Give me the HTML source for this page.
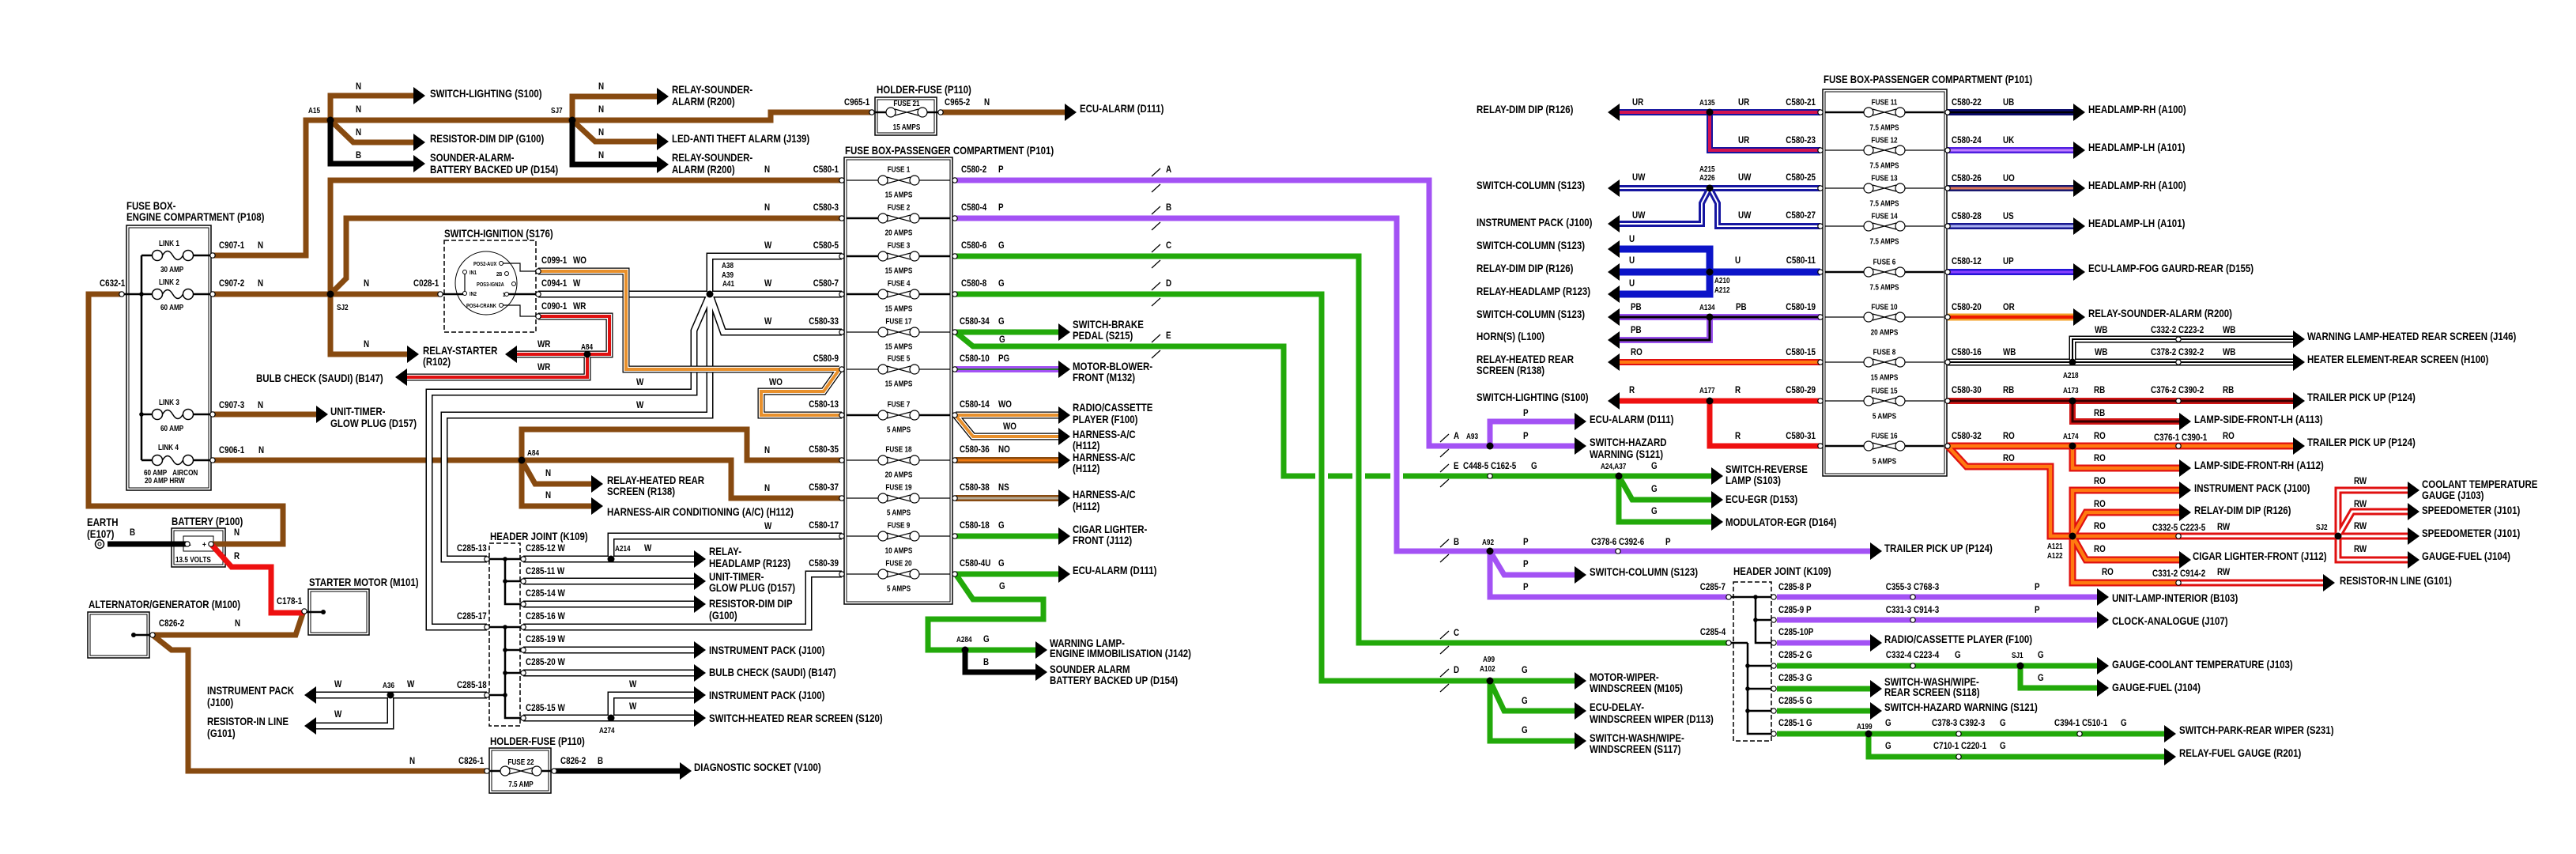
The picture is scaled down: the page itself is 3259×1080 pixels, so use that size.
<!DOCTYPE html>
<html><head><meta charset="utf-8">
<style>
html,body{margin:0;padding:0;background:#fff}
svg{display:block}
text{font-family:"Liberation Sans",Arial,sans-serif;font-weight:bold;fill:#000;transform-box:fill-box;transform-origin:0 50%;transform:scaleX(.82)}
.L{font-size:14px}.M{font-size:12px}.S{font-size:10px}.T{font-size:7px}
.e{text-anchor:end;transform-origin:100% 50%}
.c{text-anchor:middle;transform-origin:50% 50%}
path{fill:none}
.bx{fill:none;stroke:#000;stroke-width:1.5}
.bi{fill:none;stroke:#000;stroke-width:1}
.ds{fill:none;stroke:#000;stroke-width:1.5;stroke-dasharray:6 3}
.t1{stroke:#000;stroke-width:1.2}
.t2{stroke:#000;stroke-width:2.5}
</style></head><body>
<svg xmlns="http://www.w3.org/2000/svg" xmlns:xlink="http://www.w3.org/1999/xlink" width="3259" height="1080" viewBox="0 0 3259 1080">
<defs>
<polygon id="ar" points="0,-11 15,0 0,11"/>
<polygon id="al" points="0,-11 -15,0 0,11"/>
<circle id="cn" r="3.2" fill="#fff" stroke="#000" stroke-width="1.2"/>
<circle id="jd" r="4.5"/>
<circle id="jm" r="2.8"/>
<g id="fz"><circle cx="-20" r="6" fill="#fff" stroke="#000" stroke-width="1.2"/><circle cx="20" r="6" fill="#fff" stroke="#000" stroke-width="1.2"/><path d="M-15,-4L15,4M-15,4L15,-4" stroke="#000" stroke-width="1.2"/></g>
<g id="lk"><circle cx="-19.5" r="6.5" fill="#fff" stroke="#000" stroke-width="1.5"/><circle cx="19.5" r="6.5" fill="#fff" stroke="#000" stroke-width="1.5"/><path d="M-13,0q6.5,-11 13,0q6.5,11 13,0" stroke="#000" stroke-width="1.5"/></g>
<path id="pw" d="M681,372H1065 M898,372V324H1065 M898,372L915,420H1065 M898,372L878,418V496H543V793H616 M898,372V525H562V707H616 M662,707H878 M773,707V678H1065 M662,735H878 M662,764H878 M662,793H1023V726H1065 M662,822H878 M662,851H878 M662,908H878 M773,908V879H878 M616,879H400 M494,879V918H400"/>
<path id="pwo" d="M681,343H792V467H1062 M1062,467L1042,495H963V525H1065 M1209,525H1339 M1209,525L1231,552H1339"/>
<path id="pwr" d="M681,400H771V448H654 M743,448V477H515"/>
<path id="pur" d="M2303,142H2049 M2163,142V190H2303"/>
<path id="puw" d="M2303,238H2049 M2163,238L2153,257V283H2049 M2163,238L2173,257V286H2303"/>
<path id="ppb" d="M2303,401H2049 M2163,401V430H2049"/>
<path id="pwb" d="M2464,458H2901 M2622,458V429H2901"/>
<path id="prb" d="M2464,507H2901 M2622,507V533H2757"/>
<path id="pro" d="M2464,564H2901 M2622,564V592H2757 M2464,564L2488,590H2594V678H2756 M2622,678V620H2757 M2622,678L2639,648H2757 M2622,678L2639,708H2757 M2622,678V737H2756"/>
<path id="prw" d="M2756,678H3046 M2958,678V620H3046 M2958,678L2976,647H3046 M2958,678V708H3046 M2756,737H2939"/>
</defs>
<rect width="3259" height="1080" fill="#fff"/>

<!-- boxes -->
<rect class="bx" x="160" y="285" width="107" height="335"/><rect class="bi" x="163" y="288" width="101" height="329"/>
<rect class="bx" x="1068" y="199" width="137" height="565"/><rect class="bi" x="1071" y="202" width="131" height="559"/>
<rect class="bx" x="2306" y="113" width="157" height="489"/><rect class="bi" x="2309" y="116" width="151" height="483"/>
<rect class="bx" x="1107" y="123" width="78" height="48"/><rect class="bi" x="1110" y="126" width="72" height="42"/>
<rect class="bx" x="619" y="946" width="78" height="57"/><rect class="bi" x="622" y="949" width="72" height="51"/>
<rect class="bx" x="217" y="668" width="68" height="49"/><rect class="bi" x="220" y="671" width="62" height="43"/>
<rect class="bi" x="232" y="678" width="38" height="19"/>
<rect class="bx" x="390" y="745" width="77" height="58"/><rect class="bi" x="393" y="748" width="71" height="52"/>
<rect class="bx" x="111" y="774" width="78" height="58"/><rect class="bi" x="114" y="777" width="72" height="52"/>
<rect class="ds" x="562" y="304" width="116" height="116"/>
<rect class="ds" x="619" y="687" width="39" height="231"/>
<rect class="ds" x="2193" y="736" width="48" height="201"/>
<ellipse cx="615" cy="358" rx="39" ry="40" fill="none" stroke="#000" stroke-width="1"/>

<!-- brown -->
<path stroke="#874a10" stroke-width="7" d="M269,323H387V152H975V142H1103 M418,152V121H523 M418,152L447,180H523 M724,152V122H831 M724,152L753,179H831 M1190,142H1347 M269,372H557 M418,372V228H1064 M418,372L438,352V276H1064 M418,372V448H515 M269,524H400 M269,582H925V630H1064 M660,582V543H945V582H1064 M660,582L677,612H748 M660,582V640H748 M154,372H112V640H358V688H267 M193,803H374L384,773 M193,803L217,822H238V975H616"/>
<!-- black -->
<path stroke="#000" stroke-width="7" d="M418,152V207H523 M724,152V208H831 M136,688H237 M701,975H860 M1221,822V850H1310"/>
<!-- red -->
<path stroke="#ee1010" stroke-width="7" d="M267,688L293,717H343V775H384"/>
<!-- green -->
<path stroke="#22a90a" stroke-width="7" d="M1209,324H1719V813H2187 M1209,372H1672V861H1992 M1885,861L1903,899H1992 M1885,861V937H1992 M1209,420H1339 M1209,420L1231,438H1624V602H2165 M2048,602L2065,632H2165 M2048,602V660H2165 M1209,678H1339 M1209,726H1339 M1209,726L1231,758H1320V783H1174V822H1310 M2248,842H2653 M2556,842V870H2653 M2248,871H2366 M2248,899H2366 M2248,928H2738 M2364,928V957H2738"/>
<rect x="1664" y="596" width="16" height="12" fill="#fff"/><rect x="1711" y="596" width="16" height="12" fill="#fff"/><rect x="1759" y="596" width="16" height="12" fill="#fff"/>
<!-- purple -->
<path stroke="#a352f4" stroke-width="7" d="M1209,228H1808V564H1992 M1885,564V533H1992 M1209,276H1767V697H2366 M1885,697L1903,727H1992 M1885,697V755H2187 M2248,755H2653 M2248,784H2653 M2248,813H2366"/>
<path stroke="#22a90a" stroke-width="7" d="M1672,590V614 M1719,590V614"/>
<!-- striped left fuse box -->
<path stroke="#a352f4" stroke-width="8" d="M1209,467H1339"/><path stroke="#2e7d32" stroke-width="2" d="M1209,467H1339"/>
<path stroke="#874a10" stroke-width="8" d="M1209,582H1339"/><path stroke="#f07a10" stroke-width="3" d="M1209,582H1339"/>
<path stroke="#874a10" stroke-width="8" d="M1209,630H1339"/><path stroke="#b4aa98" stroke-width="3" d="M1209,630H1339"/>
<!-- W wires -->
<use href="#pw" stroke="#000" stroke-width="9"/><use href="#pw" stroke="#fff" stroke-width="6"/>
<use href="#pwo" stroke="#000" stroke-width="9"/><use href="#pwo" stroke="#fff" stroke-width="6.5"/><use href="#pwo" stroke="#e8902c" stroke-width="4"/>
<use href="#pwr" stroke="#000" stroke-width="9"/><use href="#pwr" stroke="#fff" stroke-width="6.5"/><use href="#pwr" stroke="#e01010" stroke-width="4"/>
<!-- right box wires -->
<use href="#pur" stroke="#1616a0" stroke-width="8"/><use href="#pur" stroke="#d21450" stroke-width="4"/>
<use href="#puw" stroke="#1616a0" stroke-width="8"/><use href="#puw" stroke="#fff" stroke-width="2"/>
<path stroke="#0c14c8" stroke-width="9" d="M2049,315H2163V372H2049 M2049,344H2303"/>
<use href="#ppb" stroke="#9a50ee" stroke-width="8"/><use href="#ppb" stroke="#000" stroke-width="3"/>
<path stroke="#e01010" stroke-width="8" d="M2303,458H2049"/><path stroke="#ff7a10" stroke-width="4" d="M2303,458H2049"/>
<path stroke="#ee1010" stroke-width="7" d="M2303,507H2049 M2163,507V564H2303"/>
<path stroke="#0a0a6a" stroke-width="8" d="M2464,142H2623"/><path stroke="#000" stroke-width="2.5" d="M2464,142H2623"/>
<path stroke="#5020e0" stroke-width="8" d="M2464,190H2623"/><path stroke="#c080ff" stroke-width="3" d="M2464,190H2623"/>
<path stroke="#181870" stroke-width="8" d="M2464,238H2623"/><path stroke="#e07a58" stroke-width="3" d="M2464,238H2623"/>
<path stroke="#181890" stroke-width="8" d="M2464,286H2623"/><path stroke="#a8b0f0" stroke-width="3" d="M2464,286H2623"/>
<path stroke="#2414d8" stroke-width="8" d="M2464,344H2623"/><path stroke="#8a40ff" stroke-width="3" d="M2464,344H2623"/>
<path stroke="#f3a028" stroke-width="9" d="M2464,401H2623"/><path stroke="#ee1a00" stroke-width="4" d="M2464,401H2623"/>
<use href="#pwb" stroke="#000" stroke-width="9"/><use href="#pwb" stroke="#fff" stroke-width="6"/><use href="#pwb" stroke="#000" stroke-width="2"/>
<use href="#prb" stroke="#d01414" stroke-width="8"/><use href="#prb" stroke="#380000" stroke-width="3"/>
<use href="#pro" stroke="#e01010" stroke-width="9"/><use href="#pro" stroke="#ff7a10" stroke-width="4.5"/>
<use href="#prw" stroke="#e01010" stroke-width="9"/><use href="#prw" stroke="#fff" stroke-width="3"/>

<!-- engine fuse box internals -->
<path class="t2" d="M179,323V582 M179,323H192 M245,323H266 M154,372H192 M245,372H266 M179,524H192 M245,524H266 M179,582H192 M245,582H266"/>
<use href="#lk" x="218.5" y="323"/><use href="#lk" x="218.5" y="372"/><use href="#lk" x="218.5" y="524"/><use href="#lk" x="218.5" y="582"/>
<use href="#jm" x="179" y="372"/><use href="#jm" x="179" y="524"/>
<!-- holders -->
<path class="t2" d="M1103,142H1121 M1173,142H1190 M616,975H634 M684,975H701"/>
<use href="#fz" x="1147" y="142"/><use href="#fz" x="659" y="975"/>
<!-- left P101 fuse rows -->
<path class="t1" d="M1071,228H1111M1163,228H1202 M1071,420H1111M1163,420H1202 M1071,467H1111M1163,467H1202 M1071,582H1111M1163,582H1202 M1071,630H1111M1163,630H1202 M1071,678H1111M1163,678H1202 M1071,726H1111M1163,726H1202"/>
<path class="t2" d="M1071,276H1111M1163,276H1202 M1071,324H1111M1163,324H1202 M1071,372H1111M1163,372H1202 M1071,525H1111M1163,525H1202"/>
<use href="#fz" x="1137" y="228"/><use href="#fz" x="1137" y="276"/><use href="#fz" x="1137" y="324"/><use href="#fz" x="1137" y="372"/><use href="#fz" x="1137" y="420"/><use href="#fz" x="1137" y="467"/><use href="#fz" x="1137" y="525"/><use href="#fz" x="1137" y="582"/><use href="#fz" x="1137" y="630"/><use href="#fz" x="1137" y="678"/><use href="#fz" x="1137" y="726"/>
<!-- right P101 fuse rows -->
<path class="t1" d="M2309,190H2358M2410,190H2459 M2309,238H2358M2410,238H2459 M2309,286H2358M2410,286H2459 M2309,401H2358M2410,401H2459 M2309,458H2358M2410,458H2459 M2309,507H2358M2410,507H2459"/>
<path class="t2" d="M2309,142H2358M2410,142H2459 M2309,344H2358M2410,344H2459 M2309,564H2358M2410,564H2459"/>
<use href="#fz" x="2384" y="142"/><use href="#fz" x="2384" y="190"/><use href="#fz" x="2384" y="238"/><use href="#fz" x="2384" y="286"/><use href="#fz" x="2384" y="344"/><use href="#fz" x="2384" y="401"/><use href="#fz" x="2384" y="458"/><use href="#fz" x="2384" y="507"/><use href="#fz" x="2384" y="564"/>
<!-- header joints -->
<path class="t2" d="M616,707H662 M639,707V764H662 M639,735H662 M616,793H662 M639,793V908H662 M639,822H662 M639,851H662 M616,879H639"/>
<use href="#jm" x="639" y="707"/><use href="#jm" x="639" y="735"/><use href="#jm" x="639" y="793"/><use href="#jm" x="639" y="822"/><use href="#jm" x="639" y="851"/><use href="#jm" x="639" y="879"/>
<path class="t2" d="M2187,755H2244 M2221,755V813H2244 M2221,784H2244 M2187,813H2211 M2211,813V928H2244 M2211,842H2244 M2211,871H2244 M2211,899H2244"/>
<use href="#jm" x="2221" y="755"/><use href="#jm" x="2221" y="784"/><use href="#jm" x="2211" y="842"/><use href="#jm" x="2211" y="871"/><use href="#jm" x="2211" y="899"/>
<!-- ignition internals -->
<path class="t2" d="M557,372H588 M641,372H681"/>
<path class="t1" d="M588,344V371 M634,333H658V343H681 M634,386H658V400H681"/>
<circle cx="634" cy="333" r="2.5" fill="#fff" stroke="#000"/><circle cx="641" cy="346" r="2.5" fill="#fff" stroke="#000"/><circle cx="650" cy="359" r="2.5" fill="#fff" stroke="#000"/><circle cx="641" cy="372" r="2.5" fill="#fff" stroke="#000"/><circle cx="634" cy="386" r="2.5" fill="#fff" stroke="#000"/><circle cx="588" cy="344" r="2.5" fill="#fff" stroke="#000"/><circle cx="588" cy="371" r="2.5" fill="#fff" stroke="#000"/>
<!-- battery, earth, motors -->
<circle cx="126" cy="688" r="5.5" fill="#fff" stroke="#000" stroke-width="1.5"/><circle cx="126" cy="688" r="2" fill="none" stroke="#000"/>
<path class="t2" d="M388,774H409 M169,803H190"/><circle cx="409" cy="774" r="3"/><circle cx="169" cy="803" r="3"/>
<!-- slash markers -->
<path class="t1" d="M1457,223L1468,213M1457,243L1468,233 M1457,271L1468,261M1457,291L1468,281 M1457,319L1468,309M1457,339L1468,329 M1457,367L1468,357M1457,387L1468,377 M1457,433L1468,423M1457,453L1468,443 M1822,559L1833,549M1822,578L1833,568 M1822,597L1833,587M1822,616L1833,606 M1822,692L1833,682M1822,711L1833,701 M1822,808L1833,798M1822,827L1833,817 M1822,856L1833,846M1822,875L1833,865"/>

<!-- junction dots -->
<use href="#jd" x="418" y="152"/><use href="#jd" x="724" y="152"/><use href="#jd" x="418" y="372"/><use href="#jd" x="743" y="448"/><use href="#jd" x="660" y="582"/><use href="#jd" x="898" y="372"/><use href="#jd" x="773" y="707"/><use href="#jd" x="773" y="908"/><use href="#jd" x="494" y="879"/><use href="#jd" x="1221" y="822"/><use href="#jd" x="1885" y="564"/><use href="#jd" x="1885" y="697"/><use href="#jd" x="1885" y="861"/><use href="#jd" x="2048" y="602"/><use href="#jd" x="2163" y="142"/><use href="#jd" x="2163" y="238"/><use href="#jd" x="2163" y="344"/><use href="#jd" x="2163" y="401"/><use href="#jd" x="2163" y="507"/><use href="#jd" x="2622" y="458"/><use href="#jd" x="2622" y="507"/><use href="#jd" x="2622" y="564"/><use href="#jd" x="2622" y="678"/><use href="#jd" x="2958" y="678"/><use href="#jd" x="2556" y="842"/><use href="#jd" x="2364" y="928"/>

<!-- connectors -->
<use href="#cn" x="269" y="323"/><use href="#cn" x="269" y="372"/><use href="#cn" x="269" y="524"/><use href="#cn" x="269" y="582"/><use href="#cn" x="154" y="372"/>
<use href="#cn" x="557" y="372"/><use href="#cn" x="681" y="343"/><use href="#cn" x="681" y="372"/><use href="#cn" x="681" y="400"/>
<use href="#cn" x="1103" y="142"/><use href="#cn" x="1190" y="142"/>
<use href="#cn" x="237" y="688"/><use href="#cn" x="267" y="688"/><use href="#cn" x="385" y="773"/><use href="#cn" x="193" y="803"/>
<use href="#cn" x="616" y="707"/><use href="#cn" x="616" y="793"/><use href="#cn" x="616" y="879"/>
<use href="#cn" x="662" y="707"/><use href="#cn" x="662" y="735"/><use href="#cn" x="662" y="764"/><use href="#cn" x="662" y="793"/><use href="#cn" x="662" y="822"/><use href="#cn" x="662" y="851"/><use href="#cn" x="662" y="908"/>
<use href="#cn" x="616" y="975"/><use href="#cn" x="701" y="975"/>
<use href="#cn" x="1065" y="228"/><use href="#cn" x="1065" y="276"/><use href="#cn" x="1065" y="324"/><use href="#cn" x="1065" y="372"/><use href="#cn" x="1065" y="420"/><use href="#cn" x="1065" y="467"/><use href="#cn" x="1065" y="525"/><use href="#cn" x="1065" y="582"/><use href="#cn" x="1065" y="630"/><use href="#cn" x="1065" y="678"/><use href="#cn" x="1065" y="726"/>
<use href="#cn" x="1208" y="228"/><use href="#cn" x="1208" y="276"/><use href="#cn" x="1208" y="324"/><use href="#cn" x="1208" y="372"/><use href="#cn" x="1208" y="420"/><use href="#cn" x="1208" y="467"/><use href="#cn" x="1208" y="525"/><use href="#cn" x="1208" y="582"/><use href="#cn" x="1208" y="630"/><use href="#cn" x="1208" y="678"/><use href="#cn" x="1208" y="726"/>
<use href="#cn" x="1885" y="602"/><use href="#cn" x="2047" y="697"/>
<use href="#cn" x="2187" y="755"/><use href="#cn" x="2187" y="813"/>
<use href="#cn" x="2244" y="755"/><use href="#cn" x="2244" y="784"/><use href="#cn" x="2244" y="813"/><use href="#cn" x="2244" y="842"/><use href="#cn" x="2244" y="871"/><use href="#cn" x="2244" y="899"/><use href="#cn" x="2244" y="928"/>
<use href="#cn" x="2420" y="755"/><use href="#cn" x="2420" y="784"/><use href="#cn" x="2420" y="842"/><use href="#cn" x="2478" y="928"/><use href="#cn" x="2631" y="928"/><use href="#cn" x="2478" y="957"/>
<use href="#cn" x="2303" y="142"/><use href="#cn" x="2303" y="190"/><use href="#cn" x="2303" y="238"/><use href="#cn" x="2303" y="286"/><use href="#cn" x="2303" y="344"/><use href="#cn" x="2303" y="401"/><use href="#cn" x="2303" y="458"/><use href="#cn" x="2303" y="507"/><use href="#cn" x="2303" y="564"/>
<use href="#cn" x="2464" y="142"/><use href="#cn" x="2464" y="190"/><use href="#cn" x="2464" y="238"/><use href="#cn" x="2464" y="286"/><use href="#cn" x="2464" y="344"/><use href="#cn" x="2464" y="401"/><use href="#cn" x="2464" y="458"/><use href="#cn" x="2464" y="507"/><use href="#cn" x="2464" y="564"/>
<use href="#cn" x="2756" y="429"/><use href="#cn" x="2756" y="458"/><use href="#cn" x="2756" y="507"/><use href="#cn" x="2756" y="564"/><use href="#cn" x="2756" y="678"/><use href="#cn" x="2756" y="737"/>

<!-- arrows -->
<use href="#ar" x="523" y="121"/><use href="#ar" x="523" y="180"/><use href="#ar" x="523" y="207"/><use href="#ar" x="831" y="122"/><use href="#ar" x="831" y="179"/><use href="#ar" x="831" y="208"/><use href="#ar" x="1347" y="142"/><use href="#ar" x="515" y="448"/><use href="#ar" x="400" y="524"/><use href="#ar" x="748" y="612"/><use href="#ar" x="748" y="640"/><use href="#ar" x="860" y="975"/>
<use href="#ar" x="878" y="707"/><use href="#ar" x="878" y="735"/><use href="#ar" x="878" y="764"/><use href="#ar" x="878" y="822"/><use href="#ar" x="878" y="851"/><use href="#ar" x="878" y="879"/><use href="#ar" x="878" y="908"/>
<use href="#ar" x="1339" y="420"/><use href="#ar" x="1339" y="467"/><use href="#ar" x="1339" y="525"/><use href="#ar" x="1339" y="552"/><use href="#ar" x="1339" y="582"/><use href="#ar" x="1339" y="630"/><use href="#ar" x="1339" y="678"/><use href="#ar" x="1339" y="726"/><use href="#ar" x="1310" y="822"/><use href="#ar" x="1310" y="850"/>
<use href="#ar" x="1992" y="533"/><use href="#ar" x="1992" y="564"/><use href="#ar" x="2165" y="602"/><use href="#ar" x="2165" y="632"/><use href="#ar" x="2165" y="660"/><use href="#ar" x="2366" y="697"/><use href="#ar" x="1992" y="727"/><use href="#ar" x="1992" y="861"/><use href="#ar" x="1992" y="899"/><use href="#ar" x="1992" y="937"/>
<use href="#ar" x="2653" y="755"/><use href="#ar" x="2653" y="784"/><use href="#ar" x="2366" y="813"/><use href="#ar" x="2653" y="842"/><use href="#ar" x="2653" y="870"/><use href="#ar" x="2366" y="871"/><use href="#ar" x="2366" y="899"/><use href="#ar" x="2738" y="928"/><use href="#ar" x="2738" y="957"/>
<use href="#ar" x="2623" y="142"/><use href="#ar" x="2623" y="190"/><use href="#ar" x="2623" y="238"/><use href="#ar" x="2623" y="286"/><use href="#ar" x="2623" y="344"/><use href="#ar" x="2623" y="401"/>
<use href="#ar" x="2901" y="429"/><use href="#ar" x="2901" y="458"/><use href="#ar" x="2901" y="507"/><use href="#ar" x="2901" y="564"/><use href="#ar" x="2757" y="533"/><use href="#ar" x="2757" y="592"/><use href="#ar" x="2757" y="620"/><use href="#ar" x="2757" y="648"/><use href="#ar" x="2757" y="708"/><use href="#ar" x="2939" y="737"/>
<use href="#ar" x="3046" y="620"/><use href="#ar" x="3046" y="647"/><use href="#ar" x="3046" y="678"/><use href="#ar" x="3046" y="708"/>
<use href="#al" x="654" y="448"/><use href="#al" x="515" y="477"/><use href="#al" x="400" y="879"/><use href="#al" x="400" y="918"/>
<use href="#al" x="2049" y="142"/><use href="#al" x="2049" y="238"/><use href="#al" x="2049" y="283"/><use href="#al" x="2049" y="315"/><use href="#al" x="2049" y="344"/><use href="#al" x="2049" y="372"/><use href="#al" x="2049" y="401"/><use href="#al" x="2049" y="430"/><use href="#al" x="2049" y="458"/><use href="#al" x="2049" y="507"/>

<!-- ===== TEXT: large ===== -->
<text class="L" x="544" y="123">SWITCH-LIGHTING (S100)</text>
<text class="L" x="544" y="180">RESISTOR-DIM DIP (G100)</text>
<text class="L" x="544" y="204">SOUNDER-ALARM-</text>
<text class="L" x="544" y="219">BATTERY BACKED UP (D154)</text>
<text class="L" x="850" y="118">RELAY-SOUNDER-</text>
<text class="L" x="850" y="133">ALARM (R200)</text>
<text class="L" x="850" y="180">LED-ANTI THEFT ALARM (J139)</text>
<text class="L" x="850" y="204">RELAY-SOUNDER-</text>
<text class="L" x="850" y="219">ALARM (R200)</text>
<text class="L" x="1109" y="118">HOLDER-FUSE (P110)</text>
<text class="L" x="1366" y="142">ECU-ALARM (D111)</text>
<text class="L" x="1069" y="195">FUSE BOX-PASSENGER COMPARTMENT (P101)</text>
<text class="L" x="160" y="265">FUSE BOX-</text>
<text class="L" x="160" y="279">ENGINE COMPARTMENT (P108)</text>
<text class="L" x="562" y="300">SWITCH-IGNITION (S176)</text>
<text class="L" x="535" y="448">RELAY-STARTER</text>
<text class="L" x="535" y="462">(R102)</text>
<text class="L" x="324" y="483">BULB CHECK (SAUDI) (B147)</text>
<text class="L" x="418" y="525">UNIT-TIMER-</text>
<text class="L" x="418" y="540">GLOW PLUG (D157)</text>
<text class="L" x="768" y="612">RELAY-HEATED REAR</text>
<text class="L" x="768" y="626">SCREEN (R138)</text>
<text class="L" x="768" y="652">HARNESS-AIR CONDITIONING (A/C) (H112)</text>
<text class="L" x="110" y="665">EARTH</text>
<text class="L" x="110" y="680">(E107)</text>
<text class="L" x="217" y="664">BATTERY (P100)</text>
<text class="L" x="391" y="741">STARTER MOTOR (M101)</text>
<text class="L" x="112" y="769">ALTERNATOR/GENERATOR (M100)</text>
<text class="L" x="620" y="683">HEADER JOINT (K109)</text>
<text class="L" x="897" y="702">RELAY-</text>
<text class="L" x="897" y="717">HEADLAMP (R123)</text>
<text class="L" x="897" y="734">UNIT-TIMER-</text>
<text class="L" x="897" y="748">GLOW PLUG (D157)</text>
<text class="L" x="897" y="768">RESISTOR-DIM DIP</text>
<text class="L" x="897" y="783">(G100)</text>
<text class="L" x="897" y="827">INSTRUMENT PACK (J100)</text>
<text class="L" x="897" y="855">BULB CHECK (SAUDI) (B147)</text>
<text class="L" x="897" y="884">INSTRUMENT PACK (J100)</text>
<text class="L" x="897" y="913">SWITCH-HEATED REAR SCREEN (S120)</text>
<text class="L" x="262" y="878">INSTRUMENT PACK</text>
<text class="L" x="262" y="893">(J100)</text>
<text class="L" x="262" y="917">RESISTOR-IN LINE</text>
<text class="L" x="262" y="932">(G101)</text>
<text class="L" x="620" y="942">HOLDER-FUSE (P110)</text>
<text class="L" x="878" y="975">DIAGNOSTIC SOCKET (V100)</text>
<text class="L" x="1357" y="415">SWITCH-BRAKE</text>
<text class="L" x="1357" y="429">PEDAL (S215)</text>
<text class="L" x="1357" y="468">MOTOR-BLOWER-</text>
<text class="L" x="1357" y="482">FRONT (M132)</text>
<text class="L" x="1357" y="520">RADIO/CASSETTE</text>
<text class="L" x="1357" y="535">PLAYER (F100)</text>
<text class="L" x="1357" y="554">HARNESS-A/C</text>
<text class="L" x="1357" y="568">(H112)</text>
<text class="L" x="1357" y="583">HARNESS-A/C</text>
<text class="L" x="1357" y="597">(H112)</text>
<text class="L" x="1357" y="630">HARNESS-A/C</text>
<text class="L" x="1357" y="645">(H112)</text>
<text class="L" x="1357" y="674">CIGAR LIGHTER-</text>
<text class="L" x="1357" y="688">FRONT (J112)</text>
<text class="L" x="1357" y="726">ECU-ALARM (D111)</text>
<text class="L" x="1328" y="818">WARNING LAMP-</text>
<text class="L" x="1328" y="831">ENGINE IMMOBILISATION (J142)</text>
<text class="L" x="1328" y="851">SOUNDER ALARM</text>
<text class="L" x="1328" y="865">BATTERY BACKED UP (D154)</text>
<text class="L" x="1868" y="143">RELAY-DIM DIP (R126)</text>
<text class="L" x="1868" y="239">SWITCH-COLUMN (S123)</text>
<text class="L" x="1868" y="286">INSTRUMENT PACK (J100)</text>
<text class="L" x="1868" y="315">SWITCH-COLUMN (S123)</text>
<text class="L" x="1868" y="344">RELAY-DIM DIP (R126)</text>
<text class="L" x="1868" y="373">RELAY-HEADLAMP (R123)</text>
<text class="L" x="1868" y="402">SWITCH-COLUMN (S123)</text>
<text class="L" x="1868" y="430">HORN(S) (L100)</text>
<text class="L" x="1868" y="459">RELAY-HEATED REAR</text>
<text class="L" x="1868" y="473">SCREEN (R138)</text>
<text class="L" x="1868" y="507">SWITCH-LIGHTING (S100)</text>
<text class="L" x="2011" y="535">ECU-ALARM (D111)</text>
<text class="L" x="2011" y="564">SWITCH-HAZARD</text>
<text class="L" x="2011" y="579">WARNING (S121)</text>
<text class="L" x="2183" y="598">SWITCH-REVERSE</text>
<text class="L" x="2183" y="612">LAMP (S103)</text>
<text class="L" x="2183" y="636">ECU-EGR (D153)</text>
<text class="L" x="2183" y="665">MODULATOR-EGR (D164)</text>
<text class="L" x="2384" y="698">TRAILER PICK UP (P124)</text>
<text class="L" x="2011" y="728">SWITCH-COLUMN (S123)</text>
<text class="L" x="2193" y="727">HEADER JOINT (K109)</text>
<text class="L" x="2011" y="861">MOTOR-WIPER-</text>
<text class="L" x="2011" y="875">WINDSCREEN (M105)</text>
<text class="L" x="2011" y="899">ECU-DELAY-</text>
<text class="L" x="2011" y="914">WINDSCREEN WIPER (D113)</text>
<text class="L" x="2011" y="938">SWITCH-WASH/WIPE-</text>
<text class="L" x="2011" y="952">WINDSCREEN (S117)</text>
<text class="L" x="2672" y="761">UNIT-LAMP-INTERIOR (B103)</text>
<text class="L" x="2672" y="790">CLOCK-ANALOGUE (J107)</text>
<text class="L" x="2384" y="813">RADIO/CASSETTE PLAYER (F100)</text>
<text class="L" x="2672" y="845">GAUGE-COOLANT TEMPERATURE (J103)</text>
<text class="L" x="2672" y="874">GAUGE-FUEL (J104)</text>
<text class="L" x="2384" y="867">SWITCH-WASH/WIPE-</text>
<text class="L" x="2384" y="880">REAR SCREEN (S118)</text>
<text class="L" x="2384" y="899">SWITCH-HAZARD WARNING (S121)</text>
<text class="L" x="2757" y="928">SWITCH-PARK-REAR WIPER (S231)</text>
<text class="L" x="2757" y="957">RELAY-FUEL GAUGE (R201)</text>
<text class="L" x="2307" y="105">FUSE BOX-PASSENGER COMPARTMENT (P101)</text>
<text class="L" x="2642" y="143">HEADLAMP-RH (A100)</text>
<text class="L" x="2642" y="191">HEADLAMP-LH (A101)</text>
<text class="L" x="2642" y="239">HEADLAMP-RH (A100)</text>
<text class="L" x="2642" y="287">HEADLAMP-LH (A101)</text>
<text class="L" x="2642" y="344">ECU-LAMP-FOG GAURD-REAR (D155)</text>
<text class="L" x="2642" y="401">RELAY-SOUNDER-ALARM (R200)</text>
<text class="L" x="2919" y="430">WARNING LAMP-HEATED REAR SCREEN (J146)</text>
<text class="L" x="2919" y="459">HEATER ELEMENT-REAR SCREEN (H100)</text>
<text class="L" x="2919" y="507">TRAILER PICK UP (P124)</text>
<text class="L" x="2776" y="535">LAMP-SIDE-FRONT-LH (A113)</text>
<text class="L" x="2919" y="564">TRAILER PICK UP (P124)</text>
<text class="L" x="2776" y="593">LAMP-SIDE-FRONT-RH (A112)</text>
<text class="L" x="2776" y="622">INSTRUMENT PACK (J100)</text>
<text class="L" x="2776" y="650">RELAY-DIM DIP (R126)</text>
<text class="L" x="2774" y="708">CIGAR LIGHTER-FRONT (J112)</text>
<text class="L" x="2960" y="739">RESISTOR-IN LINE (G101)</text>
<text class="L" x="3064" y="617">COOLANT TEMPERATURE</text>
<text class="L" x="3064" y="631">GAUGE (J103)</text>
<text class="L" x="3064" y="650">SPEEDOMETER (J101)</text>
<text class="L" x="3064" y="679">SPEEDOMETER (J101)</text>
<text class="L" x="3064" y="708">GAUGE-FUEL (J104)</text>

<!-- ===== TEXT: medium ===== -->
<text class="M" x="450" y="113">N</text><text class="M" x="450" y="142">N</text><text class="M" x="450" y="171">N</text><text class="M" x="450" y="200">B</text>
<text class="M" x="757" y="113">N</text><text class="M" x="757" y="142">N</text><text class="M" x="757" y="171">N</text><text class="M" x="757" y="200">N</text>
<text class="M" x="1068" y="133">C965-1</text><text class="M" x="1195" y="133">C965-2</text><text class="M" x="1245" y="133">N</text>
<text class="M" x="277" y="314">C907-1</text><text class="M" x="326" y="314">N</text>
<text class="M" x="277" y="362">C907-2</text><text class="M" x="326" y="362">N</text>
<text class="M" x="126" y="362">C632-1</text>
<text class="M" x="277" y="516">C907-3</text><text class="M" x="326" y="516">N</text>
<text class="M" x="277" y="573">C906-1</text><text class="M" x="327" y="573">N</text>
<text class="M" x="460" y="362">N</text><text class="M" x="523" y="362">C028-1</text>
<text class="M" x="685" y="333">C099-1</text><text class="M" x="725" y="333">WO</text>
<text class="M" x="685" y="362">C094-1</text><text class="M" x="725" y="362">W</text>
<text class="M" x="685" y="391">C090-1</text><text class="M" x="725" y="391">WR</text>
<text class="M" x="460" y="439">N</text><text class="M" x="680" y="439">WR</text><text class="M" x="680" y="468">WR</text>
<text class="M" x="690" y="602">N</text><text class="M" x="690" y="630">N</text>
<text class="M" x="164" y="677">B</text><text class="M" x="296" y="677">N</text><text class="M" x="296" y="707">R</text>
<text class="M" x="350" y="764">C178-1</text><text class="M" x="201" y="792">C826-2</text><text class="M" x="297" y="792">N</text>
<text class="M" x="805" y="487">W</text><text class="M" x="805" y="516">W</text>
<text class="M" x="967" y="218">N</text><text class="M" x="967" y="266">N</text><text class="M" x="967" y="314">W</text><text class="M" x="967" y="362">W</text><text class="M" x="967" y="410">W</text><text class="M" x="973" y="487">WO</text><text class="M" x="967" y="573">N</text><text class="M" x="967" y="621">N</text><text class="M" x="967" y="669">W</text>
<text class="M" x="578" y="697">C285-13</text><text class="M" x="578" y="783">C285-17</text><text class="M" x="578" y="870">C285-18</text>
<text class="M" x="665" y="697">C285-12 W</text><text class="M" x="665" y="726">C285-11 W</text><text class="M" x="665" y="754">C285-14 W</text><text class="M" x="665" y="783">C285-16 W</text><text class="M" x="665" y="812">C285-19 W</text><text class="M" x="665" y="841">C285-20 W</text><text class="M" x="665" y="899">C285-15 W</text>
<text class="M" x="815" y="697">W</text><text class="M" x="796" y="869">W</text><text class="M" x="796" y="897">W</text>
<text class="M" x="423" y="869">W</text><text class="M" x="515" y="869">W</text><text class="M" x="423" y="907">W</text>
<text class="M" x="518" y="966">N</text><text class="M" x="580" y="966">C826-1</text><text class="M" x="709" y="966">C826-2</text><text class="M" x="756" y="966">B</text>
<text class="M e" x="1061" y="218">C580-1</text><text class="M e" x="1061" y="266">C580-3</text><text class="M e" x="1061" y="314">C580-5</text><text class="M e" x="1061" y="362">C580-7</text><text class="M e" x="1061" y="410">C580-33</text><text class="M e" x="1061" y="457">C580-9</text><text class="M e" x="1061" y="515">C580-13</text><text class="M e" x="1061" y="572">C580-35</text><text class="M e" x="1061" y="620">C580-37</text><text class="M e" x="1061" y="668">C580-17</text><text class="M e" x="1061" y="716">C580-39</text>
<text class="M" x="1216" y="218">C580-2</text><text class="M" x="1263" y="218">P</text>
<text class="M" x="1216" y="266">C580-4</text><text class="M" x="1263" y="266">P</text>
<text class="M" x="1216" y="314">C580-6</text><text class="M" x="1263" y="314">G</text>
<text class="M" x="1216" y="362">C580-8</text><text class="M" x="1263" y="362">G</text>
<text class="M" x="1214" y="410">C580-34</text><text class="M" x="1263" y="410">G</text>
<text class="M" x="1214" y="457">C580-10</text><text class="M" x="1263" y="457">PG</text>
<text class="M" x="1214" y="515">C580-14</text><text class="M" x="1263" y="515">WO</text>
<text class="M" x="1214" y="572">C580-36</text><text class="M" x="1263" y="572">NO</text>
<text class="M" x="1214" y="620">C580-38</text><text class="M" x="1263" y="620">NS</text>
<text class="M" x="1214" y="668">C580-18</text><text class="M" x="1263" y="668">G</text>
<text class="M" x="1214" y="716">C580-4U</text><text class="M" x="1263" y="716">G</text>
<text class="M" x="1264" y="433">G</text><text class="M" x="1269" y="543">WO</text><text class="M" x="1264" y="745">G</text>
<text class="M" x="1475" y="218">A</text><text class="M" x="1475" y="266">B</text><text class="M" x="1475" y="314">C</text><text class="M" x="1475" y="362">D</text><text class="M" x="1475" y="428">E</text>
<text class="M" x="1244" y="812">G</text><text class="M" x="1244" y="841">B</text>
<text class="M" x="1927" y="526">P</text><text class="M" x="1927" y="555">P</text><text class="M" x="1839" y="555">A</text>
<text class="M" x="1839" y="593">E</text><text class="M" x="1851" y="593">C448-5 C162-5</text><text class="M" x="1937" y="593">G</text>
<text class="M" x="2089" y="593">G</text><text class="M" x="2089" y="622">G</text><text class="M" x="2089" y="650">G</text>
<text class="M" x="1839" y="689">B</text><text class="M" x="1927" y="689">P</text><text class="M" x="2013" y="689">C378-6 C392-6</text><text class="M" x="2107" y="689">P</text>
<text class="M" x="1927" y="717">P</text><text class="M" x="1927" y="746">P</text>
<text class="M e" x="2183" y="746">C285-7</text><text class="M" x="1839" y="804">C</text><text class="M e" x="2183" y="803">C285-4</text>
<text class="M" x="1839" y="851">D</text><text class="M" x="1925" y="851">G</text><text class="M" x="1925" y="890">G</text><text class="M" x="1925" y="927">G</text>
<text class="M" x="2250" y="746">C285-8 P</text><text class="M" x="2250" y="775">C285-9 P</text><text class="M" x="2250" y="803">C285-10P</text><text class="M" x="2250" y="832">C285-2 G</text><text class="M" x="2250" y="861">C285-3 G</text><text class="M" x="2250" y="890">C285-5 G</text><text class="M" x="2250" y="918">C285-1 G</text>
<text class="M e" x="2418" y="746">C355-3</text><text class="M" x="2421" y="746">C768-3</text><text class="M" x="2574" y="746">P</text>
<text class="M e" x="2418" y="775">C331-3</text><text class="M" x="2421" y="775">C914-3</text><text class="M" x="2574" y="775">P</text>
<text class="M e" x="2418" y="832">C332-4</text><text class="M" x="2421" y="832">C223-4</text><text class="M" x="2473" y="832">G</text><text class="M" x="2578" y="832">G</text><text class="M" x="2578" y="861">G</text>
<text class="M" x="2385" y="918">G</text><text class="M" x="2385" y="947">G</text>
<text class="M" x="2444" y="918">C378-3 C392-3</text><text class="M" x="2530" y="918">G</text><text class="M" x="2599" y="918">C394-1 C510-1</text><text class="M" x="2683" y="918">G</text>
<text class="M" x="2446" y="947">C710-1 C220-1</text><text class="M" x="2530" y="947">G</text>
<text class="M" x="2065" y="133">UR</text><text class="M" x="2199" y="133">UR</text><text class="M e" x="2297" y="133">C580-21</text>
<text class="M" x="2199" y="181">UR</text><text class="M e" x="2297" y="181">C580-23</text>
<text class="M" x="2065" y="228">UW</text><text class="M" x="2199" y="228">UW</text><text class="M e" x="2297" y="228">C580-25</text>
<text class="M" x="2065" y="276">UW</text><text class="M" x="2199" y="276">UW</text><text class="M e" x="2297" y="276">C580-27</text>
<text class="M" x="2061" y="306">U</text><text class="M" x="2061" y="333">U</text><text class="M" x="2195" y="333">U</text><text class="M e" x="2297" y="333">C580-11</text><text class="M" x="2061" y="362">U</text>
<text class="M" x="2063" y="392">PB</text><text class="M" x="2196" y="392">PB</text><text class="M e" x="2297" y="392">C580-19</text><text class="M" x="2063" y="421">PB</text>
<text class="M" x="2063" y="449">RO</text><text class="M e" x="2297" y="449">C580-15</text>
<text class="M" x="2061" y="497">R</text><text class="M" x="2195" y="497">R</text><text class="M e" x="2297" y="497">C580-29</text>
<text class="M" x="2195" y="555">R</text><text class="M e" x="2297" y="555">C580-31</text>
<text class="M" x="2469" y="133">C580-22</text><text class="M" x="2534" y="133">UB</text>
<text class="M" x="2469" y="181">C580-24</text><text class="M" x="2534" y="181">UK</text>
<text class="M" x="2469" y="229">C580-26</text><text class="M" x="2534" y="229">UO</text>
<text class="M" x="2469" y="277">C580-28</text><text class="M" x="2534" y="277">US</text>
<text class="M" x="2469" y="334">C580-12</text><text class="M" x="2534" y="334">UP</text>
<text class="M" x="2469" y="392">C580-20</text><text class="M" x="2534" y="392">OR</text>
<text class="M" x="2469" y="449">C580-16</text><text class="M" x="2534" y="449">WB</text>
<text class="M" x="2469" y="497">C580-30</text><text class="M" x="2534" y="497">RB</text>
<text class="M" x="2469" y="555">C580-32</text><text class="M" x="2534" y="555">RO</text>
<text class="M" x="2650" y="421">WB</text><text class="M" x="2721" y="421">C332-2 C223-2</text><text class="M" x="2812" y="421">WB</text>
<text class="M" x="2650" y="449">WB</text><text class="M" x="2721" y="449">C378-2 C392-2</text><text class="M" x="2812" y="449">WB</text>
<text class="M" x="2649" y="497">RB</text><text class="M" x="2721" y="497">C376-2 C390-2</text><text class="M" x="2812" y="497">RB</text><text class="M" x="2649" y="526">RB</text>
<text class="M" x="2649" y="555">RO</text><text class="M" x="2725" y="557">C376-1 C390-1</text><text class="M" x="2812" y="555">RO</text>
<text class="M" x="2534" y="583">RO</text><text class="M" x="2649" y="583">RO</text><text class="M" x="2649" y="612">RO</text><text class="M" x="2649" y="641">RO</text><text class="M" x="2649" y="669">RO</text><text class="M" x="2649" y="698">RO</text><text class="M" x="2659" y="727">RO</text>
<text class="M" x="2723" y="671">C332-5 C223-5</text><text class="M" x="2805" y="670">RW</text>
<text class="M" x="2723" y="729">C331-2 C914-2</text><text class="M" x="2805" y="727">RW</text>
<text class="M" x="2978" y="612">RW</text><text class="M" x="2978" y="641">RW</text><text class="M" x="2978" y="669">RW</text><text class="M" x="2978" y="698">RW</text>

<!-- ===== TEXT: small ===== -->
<text class="S" x="390" y="143">A15</text><text class="S" x="697" y="143">SJ7</text><text class="S" x="426" y="392">SJ2</text>
<text class="S" x="735" y="442">A84</text><text class="S" x="667" y="576">A84</text>
<text class="S" x="913" y="339">A38</text><text class="S" x="913" y="351">A39</text><text class="S" x="914" y="362">A41</text>
<text class="S" x="778" y="697">A214</text><text class="S" x="758" y="927">A274</text><text class="S" x="484" y="870">A36</text><text class="S" x="1210" y="812">A284</text>
<text class="S" x="201" y="311">LINK 1</text><text class="S" x="203" y="344">30 AMP</text>
<text class="S" x="201" y="360">LINK 2</text><text class="S" x="203" y="392">60 AMP</text>
<text class="S" x="201" y="512">LINK 3</text><text class="S" x="203" y="545">60 AMP</text>
<text class="S" x="200" y="569">LINK 4</text><text class="S" x="182" y="601">60 AMP&#160;&#160;&#160;AIRCON</text><text class="S" x="183" y="611">20 AMP HRW</text>
<text class="S c" x="1147" y="134">FUSE 21</text><text class="S c" x="1147" y="164">15 AMPS</text>
<text class="S c" x="659" y="967">FUSE 22</text><text class="S c" x="659" y="995">7.5 AMP</text>
<text class="S" x="222" y="711">13.5 VOLTS</text>
<text class="S" x="239" y="692">-</text><text class="S" x="256" y="692">+</text>
<text class="S c" x="1137" y="217.5">FUSE 1</text><text class="S c" x="1137" y="249.5">15 AMPS</text>
<text class="S c" x="1137" y="265.5">FUSE 2</text><text class="S c" x="1137" y="297.5">20 AMPS</text>
<text class="S c" x="1137" y="313.5">FUSE 3</text><text class="S c" x="1137" y="345.5">15 AMPS</text>
<text class="S c" x="1137" y="361.5">FUSE 4</text><text class="S c" x="1137" y="393.5">15 AMPS</text>
<text class="S c" x="1137" y="409.5">FUSE 17</text><text class="S c" x="1137" y="441.5">15 AMPS</text>
<text class="S c" x="1137" y="456.5">FUSE 5</text><text class="S c" x="1137" y="488.5">15 AMPS</text>
<text class="S c" x="1137" y="514.5">FUSE 7</text><text class="S c" x="1137" y="546.5">5 AMPS</text>
<text class="S c" x="1137" y="571.5">FUSE 18</text><text class="S c" x="1137" y="603.5">20 AMPS</text>
<text class="S c" x="1137" y="619.5">FUSE 19</text><text class="S c" x="1137" y="651.5">5 AMPS</text>
<text class="S c" x="1137" y="667.5">FUSE 9</text><text class="S c" x="1137" y="699.5">10 AMPS</text>
<text class="S c" x="1137" y="715.5">FUSE 20</text><text class="S c" x="1137" y="747.5">5 AMPS</text>
<text class="S c" x="2384" y="132.5">FUSE 11</text><text class="S c" x="2384" y="164.5">7.5 AMPS</text>
<text class="S c" x="2384" y="180.5">FUSE 12</text><text class="S c" x="2384" y="212.5">7.5 AMPS</text>
<text class="S c" x="2384" y="228.5">FUSE 13</text><text class="S c" x="2384" y="260.5">7.5 AMPS</text>
<text class="S c" x="2384" y="276.5">FUSE 14</text><text class="S c" x="2384" y="308.5">7.5 AMPS</text>
<text class="S c" x="2384" y="334.5">FUSE 6</text><text class="S c" x="2384" y="366.5">7.5 AMPS</text>
<text class="S c" x="2384" y="391.5">FUSE 10</text><text class="S c" x="2384" y="423.5">20 AMPS</text>
<text class="S c" x="2384" y="448.5">FUSE 8</text><text class="S c" x="2384" y="480.5">15 AMPS</text>
<text class="S c" x="2384" y="497.5">FUSE 15</text><text class="S c" x="2384" y="529.5">5 AMPS</text>
<text class="S c" x="2384" y="554.5">FUSE 16</text><text class="S c" x="2384" y="586.5">5 AMPS</text>
<text class="S" x="1855" y="555">A93</text><text class="S" x="2025" y="593">A24,A37</text><text class="S" x="1875" y="689">A92</text>
<text class="S" x="1876" y="837">A99</text><text class="S" x="1872" y="849">A102</text>
<text class="S" x="2545" y="832">SJ1</text><text class="S" x="2349" y="922">A199</text>
<text class="S" x="2150" y="133">A135</text><text class="S" x="2150" y="217">A215</text><text class="S" x="2150" y="228">A226</text>
<text class="S" x="2169" y="358">A210</text><text class="S" x="2169" y="370">A212</text>
<text class="S" x="2150" y="392">A134</text><text class="S" x="2150" y="497">A177</text>
<text class="S" x="2610" y="478">A218</text><text class="S" x="2610" y="497">A173</text><text class="S" x="2610" y="555">A174</text>
<text class="S" x="2590" y="694">A121</text><text class="S" x="2590" y="706">A122</text><text class="S" x="2930" y="670">SJ2</text>

<!-- ignition tiny -->
<text class="T" x="599" y="336">POS2-AUX</text><text class="T" x="594" y="347">IN1</text><text class="T" x="628" y="349">2B</text>
<text class="T" x="603" y="362">POS3-IGN2A</text><text class="T" x="594" y="374">IN2</text><text class="T" x="636" y="375">1</text>
<text class="T" x="590" y="389">POS4-CRANK</text>
</svg>
</body></html>
